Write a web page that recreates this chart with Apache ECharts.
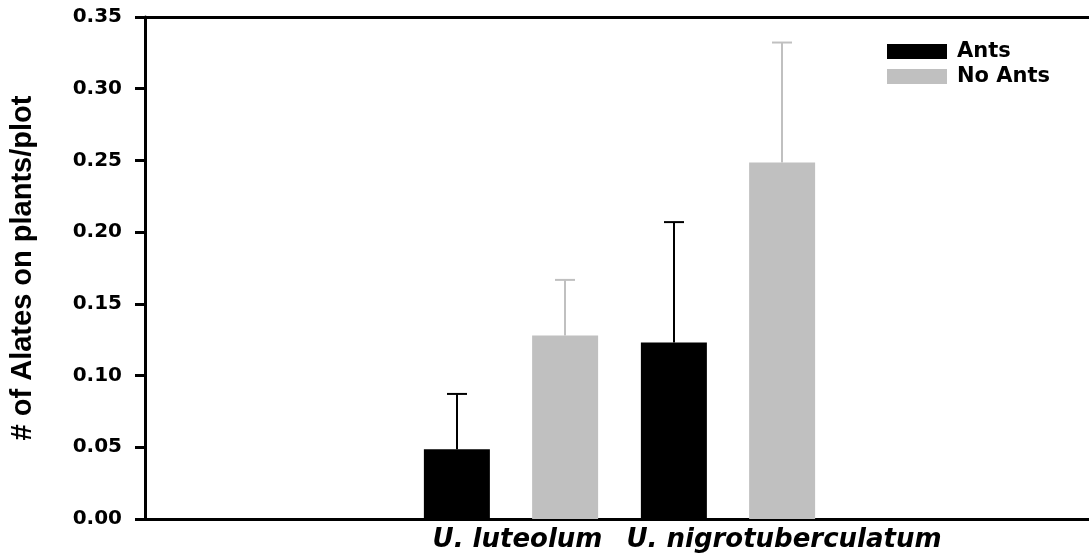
<!DOCTYPE html>
<html>
<head>
<meta charset="utf-8">
<script src="https://cdn.jsdelivr.net/npm/echarts@6/dist/echarts.min.js"></script>
<style>
html, body { margin: 0; padding: 0; background: #fff; }
#chart { width: 1089px; height: 554px; }
</style>
</head>
<body>
<div id="chart"></div>
<script>
// ---- data ----
const categories = ['U. luteolum', 'U. nigrotuberculatum'];
const seriesNames = ['Ants', 'No Ants'];
const antsMean = [0.0486, 0.123];
const antsSE = [0.0386, 0.084];
const noAntsMean = [0.128, 0.2485];
const noAntsSE = [0.0387, 0.0837];
const yMin = 0, yMax = 0.35, yInterval = 0.05;
const yTitle = '# of Alates on plants/plot';

// ---- styles ----
const BLACK = '#000000';
const GRAY = '#c0c0c0';
const WIDE = 'DejaVu Sans';

function errData(means, ses) {
  return means.map((m, i) => [i, m, m + ses[i]]);
}
function errRenderer(color, sign) {
  return function (params, api) {
    const band = api.size([1, 0])[0];
    const off = sign * band / 4;
    const base = api.coord([api.value(0), api.value(1)]);
    const top = api.coord([api.value(0), api.value(2)]);
    const x = Math.round(base[0] + off);
    return {
      type: 'group',
      children: [
        { type: 'line', shape: { x1: x, y1: base[1], x2: x, y2: top[1] },
          style: { stroke: color, lineWidth: 2 } },
        { type: 'line', shape: { x1: x - 10, y1: top[1], x2: x + 10, y2: top[1] },
          style: { stroke: color, lineWidth: 2 } }
      ]
    };
  };
}

const chart = echarts.init(document.getElementById('chart'), null, { renderer: 'canvas' });
chart.setOption({
  animation: false,
  backgroundColor: '#ffffff',
  grid: [
    { left: 145, right: 0, top: 17, bottom: 35 },
    { left: 402.5, right: 252.5, top: 17, bottom: 35 }
  ],
  legend: {
    data: seriesNames,
    orient: 'vertical',
    left: 882,
    top: 36,
    itemWidth: 60,
    itemHeight: 15,
    itemGap: 4,
    icon: 'rect',
    textStyle: { fontFamily: WIDE, fontWeight: 'bold', fontSize: 21, color: '#000', padding: [0, 0, 0, 5] }
  },
  xAxis: [
    { type: 'value', gridIndex: 0, position: 'bottom', min: 0, max: 1,
      axisLine: { show: true, lineStyle: { color: '#000', width: 3 } },
      axisTick: { show: false }, axisLabel: { show: false }, splitLine: { show: false } },
    { type: 'value', gridIndex: 0, position: 'top', min: 0, max: 1,
      axisLine: { show: true, lineStyle: { color: '#000', width: 3 } },
      axisTick: { show: false }, axisLabel: { show: false }, splitLine: { show: false } },
    { type: 'category', gridIndex: 1, data: categories,
      axisLine: { show: false }, axisTick: { show: false }, splitLine: { show: false },
      axisLabel: {
        interval: 0,
        margin: 8,
        formatter: function (v, i) { return i === 0 ? '{a|' + v + '}' : '{b|' + v + '}'; },
        rich: {
          a: { fontFamily: WIDE, fontWeight: 'bold', fontStyle: 'italic', fontSize: 26, color: '#000', padding: [0, 0, 0, 13] },
          b: { fontFamily: WIDE, fontWeight: 'bold', fontStyle: 'italic', fontSize: 26, color: '#000', padding: [0, 0, 0, 112] }
        }
      } }
  ],
  yAxis: [
    { type: 'value', gridIndex: 0, min: yMin, max: yMax, interval: yInterval,
      axisLine: { show: true, lineStyle: { color: '#000', width: 3 } },
      axisTick: { show: true, inside: false, length: 10, lineStyle: { color: '#000', width: 3 } },
      splitLine: { show: false },
      axisLabel: { margin: 23, formatter: v => v.toFixed(2),
        fontFamily: WIDE, fontWeight: 'bold', fontSize: 20, color: '#000' },
      name: yTitle, nameLocation: 'middle', nameGap: 108, nameRotate: 90,
      nameTextStyle: { fontFamily: 'Liberation Sans', fontWeight: 'bold', fontSize: 29, color: '#000' } },
    { type: 'value', gridIndex: 1, min: yMin, max: yMax, interval: yInterval, show: false }
  ],
  series: [
    { name: 'Ants', type: 'bar', xAxisIndex: 2, yAxisIndex: 1, data: antsMean,
      barWidth: 66, barGap: '64%', itemStyle: { color: BLACK } },
    { name: 'No Ants', type: 'bar', xAxisIndex: 2, yAxisIndex: 1, data: noAntsMean,
      barWidth: 66, barGap: '64%', itemStyle: { color: GRAY } },
    { name: 'Ants SE', type: 'custom', xAxisIndex: 2, yAxisIndex: 1, z: 5,
      data: errData(antsMean, antsSE), renderItem: errRenderer(BLACK, -1),
      encode: { x: 0, y: [1, 2] } },
    { name: 'No Ants SE', type: 'custom', xAxisIndex: 2, yAxisIndex: 1, z: 5,
      data: errData(noAntsMean, noAntsSE), renderItem: errRenderer(GRAY, 1),
      encode: { x: 0, y: [1, 2] } }
  ]
});
</script>
</body>
</html>
